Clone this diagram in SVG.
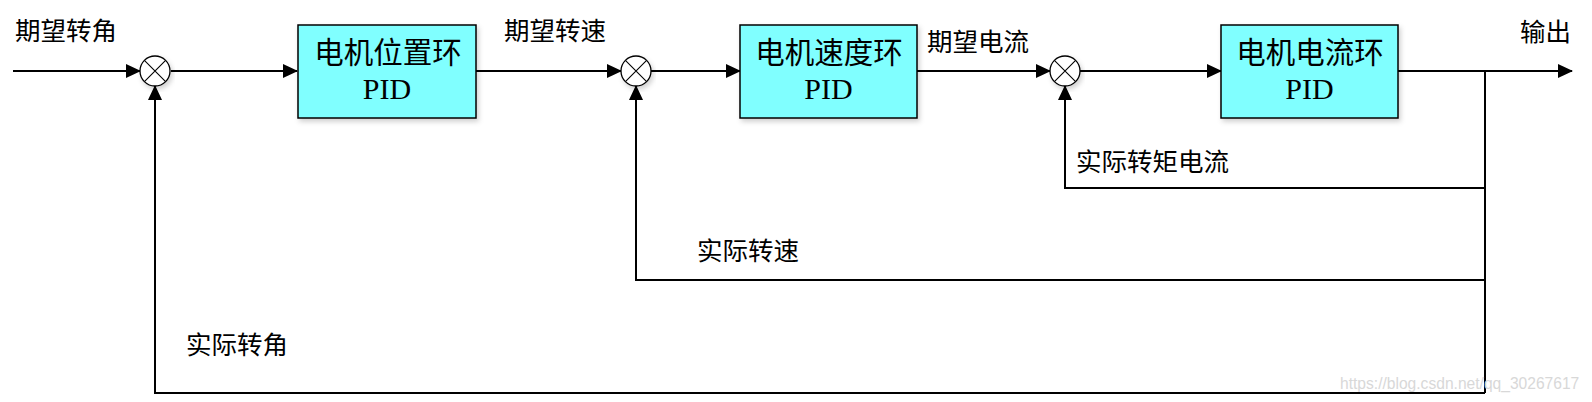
<svg xmlns="http://www.w3.org/2000/svg" width="1592" height="402" viewBox="0 0 1592 402">
<style>
.ln{fill:none;stroke:#000;stroke-width:2}
.box{fill:#80FFFF;stroke:#000;stroke-width:1.5}
.sum{fill:#fff;stroke:#000;stroke-width:1.3}
.x{stroke:#000;stroke-width:1.1}
.lbl{font-family:"Liberation Serif","Noto Sans CJK SC",serif;font-size:25.5px;fill:#000}
.bt{font-family:"Liberation Serif","Noto Sans CJK SC",serif;font-size:29.5px;fill:#000}
.pid{font-family:"Liberation Serif",serif;font-size:30px;fill:#000}
.wm{font-family:"Liberation Sans",Arial,sans-serif;font-size:15.6px;fill:#d8d8d8}
</style>
<defs>
<marker id="ar" markerUnits="userSpaceOnUse" markerWidth="15" markerHeight="14" refX="14" refY="7" orient="auto">
<path d="M0,0 L15,7 L0,14 z" fill="#000"/>
</marker>
<filter id="sh" x="-10%" y="-10%" width="125%" height="130%">
<feDropShadow dx="2" dy="3" stdDeviation="2.5" flood-color="#000" flood-opacity="0.18"/>
</filter>
</defs>
<g id="connectors">
<path class="ln" d="M13,71 H140" marker-end="url(#ar)"/>
<path class="ln" d="M171,71 H297" marker-end="url(#ar)"/>
<path class="ln" d="M476,71 H621" marker-end="url(#ar)"/>
<path class="ln" d="M651,71 H740" marker-end="url(#ar)"/>
<path class="ln" d="M917,71 H1050" marker-end="url(#ar)"/>
<path class="ln" d="M1080,71 H1221" marker-end="url(#ar)"/>
<path class="ln" d="M1398,71 H1572" marker-end="url(#ar)"/>
<path class="ln" d="M1485,71 V393"/>
<path class="ln" d="M1485,188 H1065 V86" marker-end="url(#ar)"/>
<path class="ln" d="M1485,280 H636 V86" marker-end="url(#ar)"/>
<path class="ln" d="M1485,393 H155 V86" marker-end="url(#ar)"/>
</g>
<g id="sum1">
<circle class="sum" cx="155" cy="71" r="15" filter="url(#sh)"/>
<path class="x" d="M144.4,60.4 L165.6,81.6 M165.6,60.4 L144.4,81.6"/>
</g>
<g id="sum2">
<circle class="sum" cx="636" cy="71" r="15" filter="url(#sh)"/>
<path class="x" d="M625.4,60.4 L646.6,81.6 M646.6,60.4 L625.4,81.6"/>
</g>
<g id="sum3">
<circle class="sum" cx="1065" cy="71" r="15" filter="url(#sh)"/>
<path class="x" d="M1054.4,60.4 L1075.6,81.6 M1075.6,60.4 L1054.4,81.6"/>
</g>
<g id="pos-pid">
<rect class="box" x="298" y="25" width="178" height="93" filter="url(#sh)"/>
<text class="bt" x="388" y="53" text-anchor="middle" dominant-baseline="central">电机位置环</text>
<text class="pid" x="387" y="99" text-anchor="middle">PID</text>
</g>
<g id="spd-pid">
<rect class="box" x="740" y="25" width="177" height="93" filter="url(#sh)"/>
<text class="bt" x="829" y="53" text-anchor="middle" dominant-baseline="central">电机速度环</text>
<text class="pid" x="828.5" y="99" text-anchor="middle">PID</text>
</g>
<g id="cur-pid">
<rect class="box" x="1221" y="25" width="177" height="93" filter="url(#sh)"/>
<text class="bt" x="1310" y="53" text-anchor="middle" dominant-baseline="central">电机电流环</text>
<text class="pid" x="1309.5" y="99" text-anchor="middle">PID</text>
</g>
<g id="labels">
<text class="lbl" x="15" y="31" dominant-baseline="central">期望转角</text>
<text class="lbl" x="504" y="31" dominant-baseline="central">期望转速</text>
<text class="lbl" x="927" y="42" dominant-baseline="central">期望电流</text>
<text class="lbl" x="1520" y="32" dominant-baseline="central">输出</text>
<text class="lbl" x="1076" y="162" dominant-baseline="central">实际转矩电流</text>
<text class="lbl" x="697" y="251" dominant-baseline="central">实际转速</text>
<text class="lbl" x="186" y="345" dominant-baseline="central">实际转角</text>
<text class="wm" x="1340" y="389">https://blog.csdn.net/qq_30267617</text>
</g>
</svg>
